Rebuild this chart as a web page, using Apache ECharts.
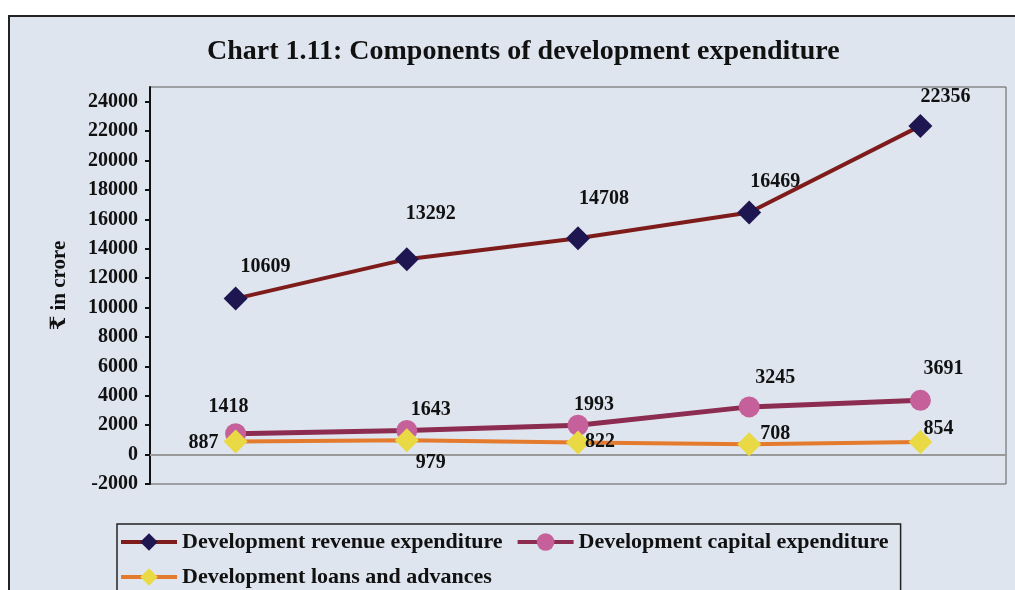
<!DOCTYPE html>
<html>
<head>
<meta charset="utf-8">
<script src="https://cdn.jsdelivr.net/npm/echarts@6/dist/echarts.min.js"></script>
<style>
  html, body { margin: 0; padding: 0; background: #fff; }
  .frame {
    position: absolute; left: 8px; top: 15px; width: 1007px; height: 575px;
    background: #dfe5ef; border-left: 2px solid #222; border-top: 2px solid #222;
    box-sizing: border-box;
  }
  #chart { position: absolute; left: 0; top: 0; width: 1015px; height: 590px; }
</style>
</head>
<body>
<div class="frame"></div>
<div id="chart"></div>
<script>
// years are not printed on the chart
const categories = ['1', '2', '3', '4', '5'];
const revenueExp = [10609, 13292, 14708, 16469, 22356];
const capitalExp = [1418, 1643, 1993, 3245, 3691];
const loansAdv = [887, 979, 822, 708, 854];
const yTicks = [-2000, 0, 2000, 4000, 6000, 8000, 10000, 12000, 14000, 16000, 18000, 20000, 22000, 24000];

// label nudges, per point
const revenueOffsets = [[30, -5], [24, -18], [26, -13], [26, -4], [25, -2]];
const capitalOffsets = [[-7, -1], [24, 5], [16, 5], [26, -4], [23, -6]];
const loansOffsets = [[-32, 28], [24, 50], [22, 26], [26, 17], [18, 14]];

const font = '"Liberation Serif", "DejaVu Serif", serif';

const withLabels = (values, offsets) => values.map((v, i) => ({
  value: v,
  label: { offset: offsets[i] }
}));

const labelStyle = {
  show: true,
  position: 'top',
  fontFamily: font,
  fontWeight: 'bold',
  fontSize: 20,
  color: '#111'
};

const chart = echarts.init(document.getElementById('chart'));
chart.setOption({
  backgroundColor: 'transparent',
  animation: false,
  title: {
    text: 'Chart 1.11: Components of development expenditure',
    left: 202,
    top: 33,
    textStyle: { fontFamily: font, fontWeight: 'bold', fontSize: 28, color: '#111' }
  },
  grid: {
    left: 150, right: 9, top: 87, bottom: 106,
    show: true, borderColor: '#5a5a5a', borderWidth: 1
  },
  xAxis: {
    type: 'category',
    data: categories,
    boundaryGap: true,
    axisLine: { lineStyle: { color: '#999', width: 2 } },
    axisTick: { show: false },
    axisLabel: { show: false }
  },
  yAxis: {
    type: 'value',
    min: -2000, max: 25000, interval: 2000,
    name: '₹ in crore',
    nameLocation: 'middle',
    nameRotate: 90,
    nameGap: 80,
    nameTextStyle: { fontFamily: font, fontWeight: 'bold', fontSize: 21, color: '#111' },
    axisLine: { show: true, lineStyle: { color: '#111', width: 2 } },
    axisTick: { show: true, length: 5, customValues: yTicks, lineStyle: { color: '#111', width: 2 } },
    axisLabel: {
      customValues: yTicks,
      formatter: v => String(v),
      fontFamily: font, fontWeight: 'bold', fontSize: 20, color: '#111', margin: 12
    },
    splitLine: { show: false }
  },
  legend: {
    left: 117, top: 524, width: 800,
    itemWidth: 56, itemHeight: 22, itemGap: 13,
    borderColor: '#222', borderWidth: 1.5, padding: [7, 12, 20, 2],
    lineStyle: { width: 4 },
    textStyle: { fontFamily: font, fontWeight: 'bold', fontSize: 22, color: '#111' }
  },
  series: [
    {
      name: 'Development revenue expenditure',
      type: 'line',
      data: withLabels(revenueExp, revenueOffsets),
      symbol: 'diamond', symbolSize: 24,
      lineStyle: { color: '#7e1c1c', width: 4 },
      itemStyle: { color: '#1e1650' },
      label: labelStyle,
      z: 3
    },
    {
      name: 'Development capital expenditure',
      type: 'line',
      data: withLabels(capitalExp, capitalOffsets),
      symbol: 'circle', symbolSize: 21,
      lineStyle: { color: '#8c2c50', width: 5 },
      itemStyle: { color: '#c6609a' },
      label: labelStyle,
      z: 2
    },
    {
      name: 'Development loans and advances',
      type: 'line',
      data: withLabels(loansAdv, loansOffsets),
      symbol: 'diamond', symbolSize: 24,
      lineStyle: { color: '#e47a2e', width: 4 },
      itemStyle: { color: '#e9da45' },
      label: labelStyle,
      z: 4
    }
  ]
});
</script>
</body>
</html>
